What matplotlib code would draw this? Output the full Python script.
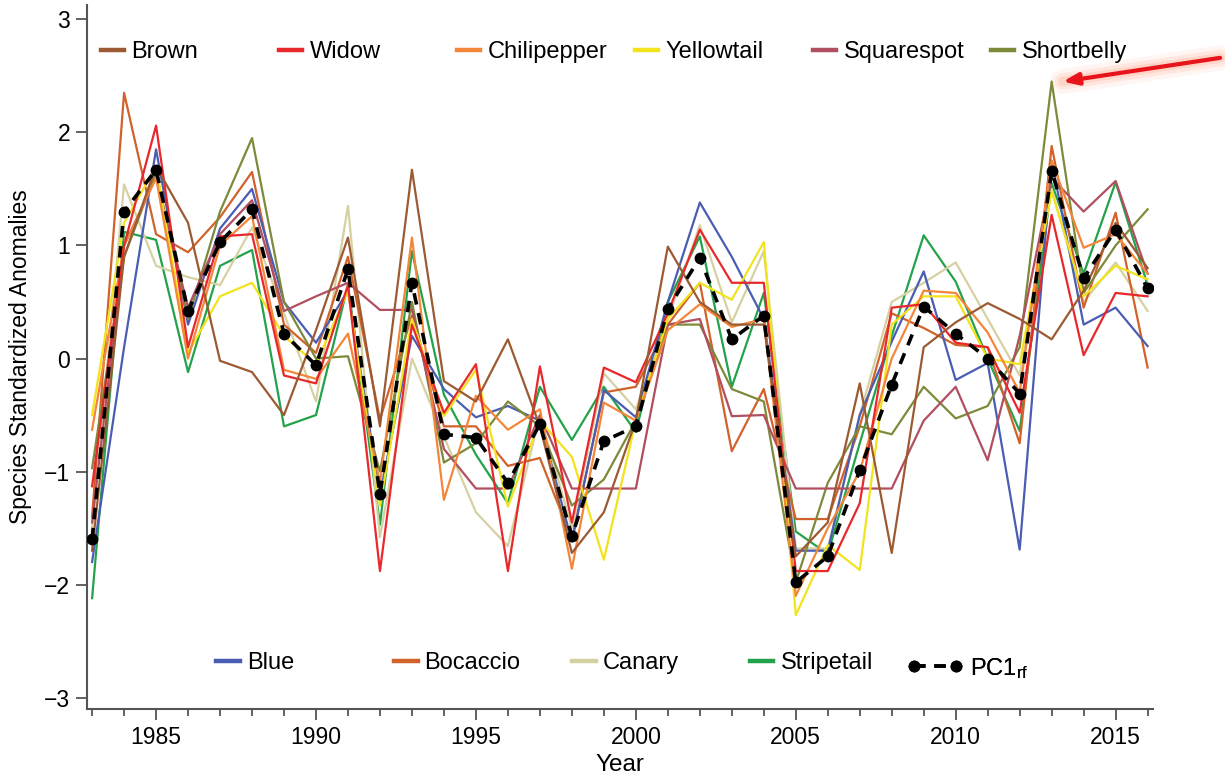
import matplotlib
matplotlib.use("Agg")
import matplotlib.pyplot as plt
from matplotlib.ticker import MultipleLocator
import numpy as np

plt.rcParams["font.family"] = ["Liberation Sans", "DejaVu Sans"]
plt.rcParams["mathtext.fontset"] = "custom"
plt.rcParams["mathtext.rm"] = "Liberation Sans"
plt.rcParams["mathtext.it"] = "Liberation Sans"

years = np.arange(1983, 2017)

brown = [-1.70, 0.90, 1.70, 1.20, -0.02, -0.12, -0.50, 0.25, 1.07, -0.60, 1.67, -0.20,
         -0.38, 0.17, -0.60, -1.72, -1.36, -0.55, 0.99, 0.50, 0.30, 0.30, -1.75, -1.45,
         -0.22, -1.72, 0.10, 0.32, 0.49, 0.35, 0.17, 0.60, 1.20, 0.80]
widow = [-1.13, 1.00, 2.06, 0.10, 1.08, 1.10, -0.15, -0.22, 0.65, -1.88, 0.30, -0.48,
         -0.05, -1.88, -0.07, -1.45, -0.08, -0.21, 0.40, 1.14, 0.67, 0.67, -1.88, -1.88,
         -1.28, 0.45, 0.48, 0.14, 0.10, -0.48, 1.27, 0.03, 0.58, 0.55]
chilipepper = [-0.63, 1.00, 1.60, 0.00, 1.00, 1.26, -0.10, -0.18, 0.22, -1.10, 1.07, -1.25,
               -0.33, -0.63, -0.45, -1.86, -0.39, -0.55, 0.25, 0.48, 0.28, 0.35, -2.10, -1.50,
               -1.00, 0.00, 0.60, 0.58, 0.23, -0.30, 1.75, 0.98, 1.10, 0.75]
yellowtail = [-0.50, 1.20, 1.70, 0.05, 0.55, 0.67, 0.20, -0.05, 0.60, -1.30, 0.35, -0.51,
              -0.10, -1.31, -0.55, -0.87, -1.78, -0.55, 0.35, 0.67, 0.52, 1.03, -2.27, -1.65,
              -1.87, 0.30, 0.55, 0.55, 0.00, -0.05, 1.48, 0.55, 0.82, 0.70]
squarespot = [-1.45, 1.00, 1.60, 0.45, 1.10, 1.40, 0.42, 0.55, 0.67, 0.43, 0.43, -0.80,
              -1.15, -1.15, -0.50, -1.15, -1.15, -1.15, 0.30, 0.35, -0.51, -0.50, -1.15, -1.15,
              -1.15, -1.15, -0.55, -0.25, -0.90, 0.20, 1.60, 1.30, 1.57, 0.75]
shortbelly = [-0.97, 0.90, 1.65, 0.35, 1.30, 1.95, 0.50, 0.00, 0.02, -1.00, 0.50, -0.92,
              -0.75, -0.38, -0.60, -1.30, -1.07, -0.55, 0.30, 0.30, -0.27, -0.38, -1.98, -1.10,
              -0.60, -0.67, -0.25, -0.53, -0.42, 0.10, 2.45, 0.58, 1.00, 1.32]
blue = [-1.80, 0.10, 1.85, 0.30, 1.15, 1.50, 0.50, 0.14, 0.60, -1.20, 0.20, -0.27,
        -0.52, -0.42, -0.55, -1.62, -0.28, -0.52, 0.50, 1.38, 0.90, 0.35, -1.70, -1.70,
        -0.50, 0.15, 0.77, -0.19, -0.04, -1.69, 1.75, 0.30, 0.45, 0.11]
bocaccio = [-1.40, 2.35, 1.10, 0.94, 1.25, 1.65, 0.30, 0.05, 0.90, -0.54, 0.38, -0.60,
            -0.60, -0.95, -0.88, -1.60, -0.30, -0.25, 0.30, 0.67, -0.82, -0.27, -1.42, -1.42,
            -0.60, 0.40, 0.27, 0.12, 0.10, -0.75, 1.88, 0.45, 1.29, -0.08]
canary = [-1.50, 1.54, 0.82, 0.72, 0.65, 1.16, 0.40, -0.38, 1.35, -1.58, 0.00, -0.69,
          -1.36, -1.66, -0.50, -1.50, -0.13, -0.45, 0.35, 1.18, 0.32, 0.95, -1.68, -1.68,
          -0.50, 0.50, 0.67, 0.85, 0.35, -0.15, 1.50, 0.50, 0.85, 0.42]
stripetail = [-2.12, 1.12, 1.05, -0.12, 0.82, 0.96, -0.60, -0.50, 0.65, -1.47, 0.95, -0.32,
              -0.85, -1.28, -0.25, -0.72, -0.25, -0.65, 0.50, 1.08, -0.25, 0.58, -1.53, -1.73,
              -0.75, 0.20, 1.09, 0.68, 0.00, -0.64, 1.55, 0.75, 1.56, 0.65]
pc1_rf = [-1.60, 1.30, 1.67, 0.42, 1.03, 1.32, 0.22, -0.06, 0.79, -1.20, 0.67, -0.67,
          -0.70, -1.10, -0.58, -1.57, -0.73, -0.60, 0.44, 0.89, 0.17, 0.38, -1.98, -1.75,
          -0.99, -0.23, 0.46, 0.22, 0.00, -0.31, 1.66, 0.71, 1.14, 0.62]

top_species = ["Brown", "Widow", "Chilipepper", "Yellowtail", "Squarespot", "Shortbelly"]
bottom_species = ["Blue", "Bocaccio", "Canary", "Stripetail"]
series = {
    "Brown": brown, "Widow": widow, "Chilipepper": chilipepper, "Yellowtail": yellowtail,
    "Squarespot": squarespot, "Shortbelly": shortbelly, "Blue": blue, "Bocaccio": bocaccio,
    "Canary": canary, "Stripetail": stripetail,
}
colors = {
    "Brown": "#9c5a33", "Widow": "#e8282b", "Chilipepper": "#f4863a", "Yellowtail": "#f2e31c",
    "Squarespot": "#b14e5f", "Shortbelly": "#7d8a3a", "Blue": "#4a5db3", "Bocaccio": "#d2622c",
    "Canary": "#d6d1a2", "Stripetail": "#24a24b",
}

fig = plt.figure(figsize=(12.25, 7.82), dpi=100)
ax = fig.add_axes([0.071, 0.0934, 0.87, 0.9006])

handles = {}
for name in bottom_species[::-1] + top_species[::-1]:
    vals = series[name]
    assert len(vals) == len(years)
    (handles[name],) = ax.plot(years, vals, color=colors[name], lw=1.6)

(handles["PC1"],) = ax.plot(years, pc1_rf, color="black", lw=2.6, linestyle=(0, (3.2, 2.4)),
                            marker="o", markersize=7.5, zorder=5)

ax.set_xlim(1982.84, 2016.16)
ax.set_ylim(-3.1, 3.13)
ax.xaxis.set_major_locator(MultipleLocator(5))
ax.xaxis.set_minor_locator(MultipleLocator(1))
ax.set_yticks(range(-3, 4))
for side in ["top", "right"]:
    ax.spines[side].set_visible(False)
for side in ["left", "bottom"]:
    ax.spines[side].set_color("#555555")
    ax.spines[side].set_linewidth(1.5)
ax.tick_params(which="both", direction="out", color="#555555", width=1.3, labelsize=16.5)
ax.tick_params(which="major", length=8, pad=4)
ax.tick_params(which="minor", length=5)
ax.set_xlabel("Year", fontsize=17.5, labelpad=4)
ax.set_ylabel("Species Standardized Anomalies", fontsize=16.5, labelpad=9)


def add_key(handle, label, x, y, hlen=1.0, npts=1):
    leg = ax.legend([handle], [label], loc="center left", bbox_to_anchor=(x, y),
                    frameon=False, borderpad=0, borderaxespad=0, handlelength=hlen,
                    handletextpad=0.3, fontsize=17, numpoints=npts)
    for ln in leg.get_lines():
        if label.startswith("PC1"):
            ln.set_linewidth(2.6)
        else:
            ln.set_linewidth(3.2)
    ax.add_artist(leg)


step = 0.167
for i, name in enumerate(top_species):
    add_key(handles[name], name, 0.013 + i * step, 0.933)
for i, name in enumerate(bottom_species):
    add_key(handles[name], name, 0.121 + i * step, 0.065)
add_key(handles["PC1"], r"PC1$_{\mathrm{rf}}$", 0.121 + 4 * step - 0.02, 0.058, hlen=2.4, npts=2)

# glowing arrow pointing to the 2013 shortbelly peak
peak = int(np.argmax(shortbelly))
for lw, a in [(18, 0.07), (12, 0.11), (7, 0.16)]:
    ax.annotate("", xy=(years[peak] + 0.35, shortbelly[peak]), xycoords="data",
                xytext=(0.996, 0.926), textcoords="figure fraction",
                arrowprops=dict(arrowstyle="-", color="#ff7a50", lw=lw, alpha=a,
                                shrinkA=0, shrinkB=0), annotation_clip=False)
ax.annotate("", xy=(years[peak] + 0.35, shortbelly[peak]), xycoords="data",
            xytext=(0.996, 0.926), textcoords="figure fraction",
            arrowprops=dict(arrowstyle="-|>,head_length=0.9,head_width=0.35", color="#e8141c",
                            lw=3, shrinkA=0, shrinkB=0), annotation_clip=False)

fig.savefig("out.png", dpi=100)
